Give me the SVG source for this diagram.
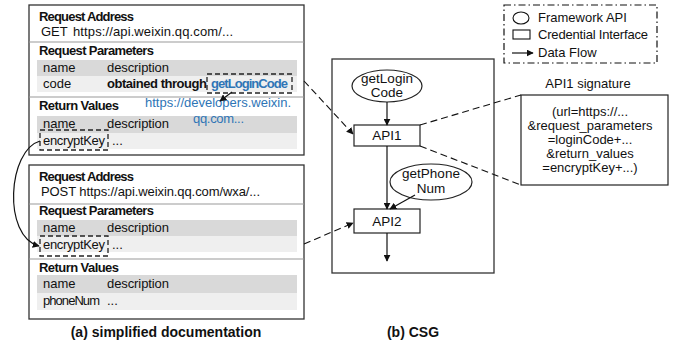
<svg xmlns="http://www.w3.org/2000/svg" width="673" height="347" viewBox="0 0 673 347">
<defs>
<style>
text{font-family:"Liberation Sans",Arial,sans-serif;font-size:13px;fill:#111}
.b{font-weight:bold;font-size:13px}
.blue{fill:#2e75b6}
.cap{font-weight:bold;font-size:14px;text-anchor:middle}
.mid{text-anchor:middle}
.nt{font-size:13.5px;text-anchor:middle}
.sig{font-size:13px;text-anchor:middle}
.box{fill:#fff;stroke:#333;stroke-width:1.3}
.sep{stroke:#999;stroke-width:1}
.row1{fill:#d9d9d9}
.row2{fill:#efefef}
.dbox{fill:none;stroke:#222;stroke-width:1.3;stroke-dasharray:5,3}
.node{fill:#fff;stroke:#222;stroke-width:1.2}
.flow{fill:none;stroke:#111;stroke-width:1.2;marker-end:url(#ah)}
.dash{fill:none;stroke:#111;stroke-width:1.1;stroke-dasharray:7,4}
.dasha{fill:none;stroke:#111;stroke-width:1.1;stroke-dasharray:7,4;marker-end:url(#ah)}
</style>
<marker id="ah" viewBox="0 0 10 10" refX="9" refY="5" markerWidth="7" markerHeight="7" markerUnits="userSpaceOnUse" orient="auto">
<path d="M0,0 L10,5 L0,10 z" fill="#111"/>
</marker>
</defs>

<g id="doc1">
<rect class="box" x="29" y="5" width="275" height="150"/>
<text class="b" x="39" y="21" textLength="95">Request Address</text>
<text x="41" y="36">GET</text>
<text x="73" y="36" textLength="160">https://api.weixin.qq.com/...</text>
<line class="sep" x1="29" y1="42" x2="304" y2="42"/>
<text class="b" x="39" y="55" textLength="115">Request Parameters</text>
<rect class="row1" x="37" y="60" width="260" height="16"/>
<rect class="row2" x="37" y="76" width="260" height="16"/>
<text x="43" y="72">name</text>
<text x="107" y="72" textLength="62">description</text>
<text x="43" y="88">code</text>
<text class="b" x="107" y="88" textLength="100">obtained through</text>
<text class="b blue" x="211" y="88" textLength="77">getLoginCode</text>
<rect class="dbox" x="207" y="74" width="85" height="19"/>
<line class="sep" x1="29" y1="97" x2="304" y2="97"/>
<text class="b" x="39" y="110" textLength="80">Return Values</text>
<rect class="row1" x="37" y="116" width="260" height="17"/>
<rect class="row2" x="37" y="133" width="260" height="16"/>
<text class="blue" x="145" y="107" textLength="146">https://developers.weixin.</text>
<text class="blue" x="193" y="123" textLength="51">qq.com...</text>
<text x="43" y="128">name</text>
<text x="107" y="128" textLength="62">description</text>
<text x="43" y="145" textLength="62">encryptKey</text>
<text x="112" y="145">...</text>
<rect class="dbox" x="40" y="130" width="68" height="20"/>
<path class="flow" d="M232,92 L220,101"/>
</g>

<g id="doc2">
<rect class="box" x="29" y="165" width="275" height="154"/>
<text class="b" x="39" y="181" textLength="95">Request Address</text>
<text x="41" y="196" textLength="219">POST https://api.weixin.qq.com/wxa/...</text>
<line class="sep" x1="29" y1="204" x2="304" y2="204"/>
<text class="b" x="39" y="215" textLength="115">Request Parameters</text>
<rect class="row1" x="37" y="220" width="260" height="16"/>
<rect class="row2" x="37" y="236" width="260" height="16"/>
<text x="43" y="232">name</text>
<text x="107" y="232" textLength="62">description</text>
<text x="43" y="249" textLength="62">encryptKey</text>
<text x="112" y="249">...</text>
<rect class="dbox" x="40" y="236" width="68" height="20"/>
<line class="sep" x1="29" y1="259" x2="304" y2="259"/>
<text class="b" x="39" y="272" textLength="80">Return Values</text>
<rect class="row1" x="37" y="275" width="260" height="18"/>
<rect class="row2" x="37" y="293" width="260" height="17"/>
<text x="43" y="288">name</text>
<text x="107" y="288" textLength="62">description</text>
<text x="43" y="305" textLength="57">phoneNum</text>
<text x="107" y="305">...</text>
</g>

<g id="csg">
<rect class="box" x="332" y="59" width="162" height="214"/>
</g>
<g id="getLoginCode">
<ellipse class="node" cx="387" cy="86" rx="35" ry="16"/>
<text class="nt" x="387" y="83">getLogin</text>
<text class="nt" x="387" y="97">Code</text>
</g>
<g id="api1">
<rect class="node" x="354" y="125" width="66" height="21"/>
<text class="nt" x="387" y="140">API1</text>
</g>
<g id="getPhoneNum">
<ellipse class="node" cx="431" cy="182" rx="41" ry="18"/>
<text class="nt" x="431" y="178">getPhone</text>
<text class="nt" x="431" y="193">Num</text>
</g>
<g id="api2">
<rect class="node" x="354" y="209" width="66" height="24"/>
<text class="nt" x="387" y="226">API2</text>
</g>

<g id="legend">
<rect x="504" y="5" width="153" height="58" fill="none" stroke="#111" stroke-width="1.2" stroke-dasharray="7,3,1.5,3"/>
<ellipse cx="521" cy="18" rx="8" ry="6" fill="none" stroke="#111" stroke-width="1.1"/>
<text x="538" y="22" font-size="12.5">Framework API</text>
<rect x="513" y="30" width="17" height="9" fill="none" stroke="#111" stroke-width="1.1"/>
<text x="538" y="39" font-size="12.5" textLength="110">Credential Interface</text>
<line class="flow" x1="512" y1="53" x2="533" y2="53"/>
<text x="538" y="57" font-size="12.5">Data Flow</text>
</g>

<g id="signature">
<text class="sig" x="588" y="88">API1 signature</text>
<rect class="node" x="521" y="95" width="147" height="90"/>
<text class="sig" x="590" y="116">(url=https://...</text>
<text class="sig" x="590" y="130">&amp;request_parameters</text>
<text class="sig" x="590" y="144">=loginCode+...</text>
<text class="sig" x="590" y="158">&amp;return_values</text>
<text class="sig" x="590" y="172">=encryptKey+...)</text>
</g>

<g id="connectors">
<path class="flow" d="M40,141 C8,150 2,236 39,246"/>
<path class="dasha" d="M304,81 L353,134"/>
<path class="dasha" d="M304,244 L353,223"/>
<path class="dash" d="M420,125 L521,95"/>
<path class="dash" d="M420,146 L521,185"/>
<path class="flow" d="M387,102 L387,125"/>
<path class="flow" d="M387,146 L387,209"/>
<path class="flow" d="M415,195 L390,209"/>
<path class="flow" d="M387,233 L387,261"/>
</g>

<text class="cap" x="166" y="337">(a) simplified documentation</text>
<text class="cap" x="413" y="337">(b) CSG</text>
</svg>
